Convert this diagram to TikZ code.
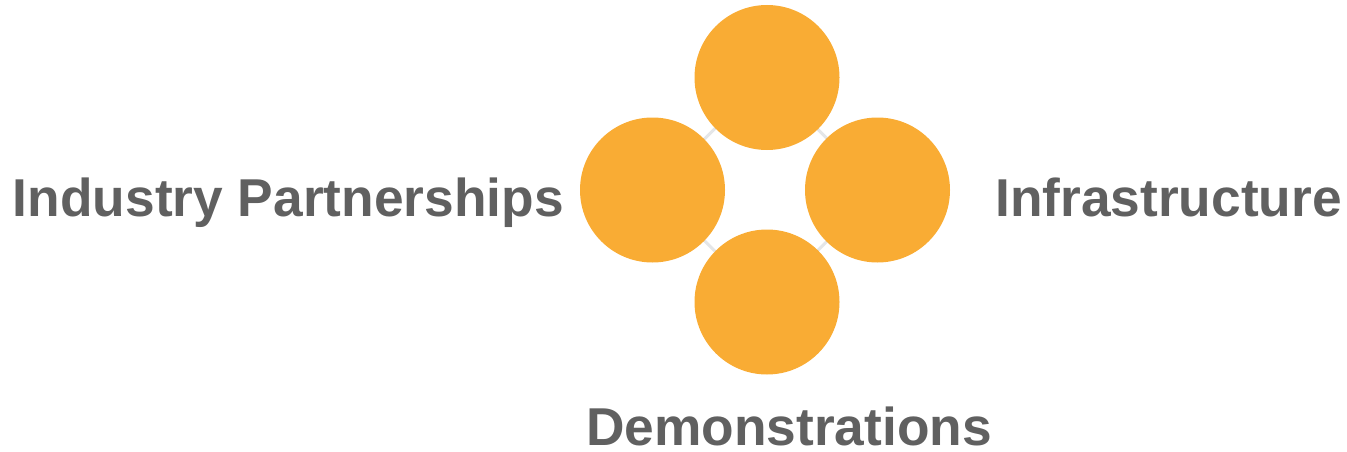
\documentclass[tikz,border=0pt]{standalone}
\usepackage{fontspec}
\setmainfont{Liberation Sans}
\definecolor{orb}{HTML}{F9AC34}
\definecolor{txt}{HTML}{606060}
\definecolor{lnk}{HTML}{E4E6E8}
\begin{document}
\begin{tikzpicture}[x=1pt,y=1pt,
  orbit/.style={circle,fill=orb,minimum size=145pt,inner sep=0pt},
  lbl/.style={text=txt,font=\bfseries\fontsize{53.3}{60}\selectfont,inner sep=0pt,anchor=base east},
  link/.style={draw=lnk,line width=3pt}]
\useasboundingbox (0,0) rectangle (1347,451);
\coordinate (ct) at (767,373.5);
\coordinate (cl) at (652.5,261);
\coordinate (cr) at (877.5,261);
\coordinate (cb) at (767,149);
\draw[link] (ct) -- (cl) -- (cb) -- (cr) -- cycle;
\node[orbit] (top) at (ct) {};
\node[orbit] (left) at (cl) {};
\node[orbit] (right) at (cr) {};
\node[orbit] (bottom) at (cb) {};
\node[lbl] (ip) at (564,235) {Industry Partnerships};
\node[lbl] (inf) at (1342,235) {Infrastructure};
\node[lbl] (dem) at (992,6) {Demonstrations};
\end{tikzpicture}
\end{document}
